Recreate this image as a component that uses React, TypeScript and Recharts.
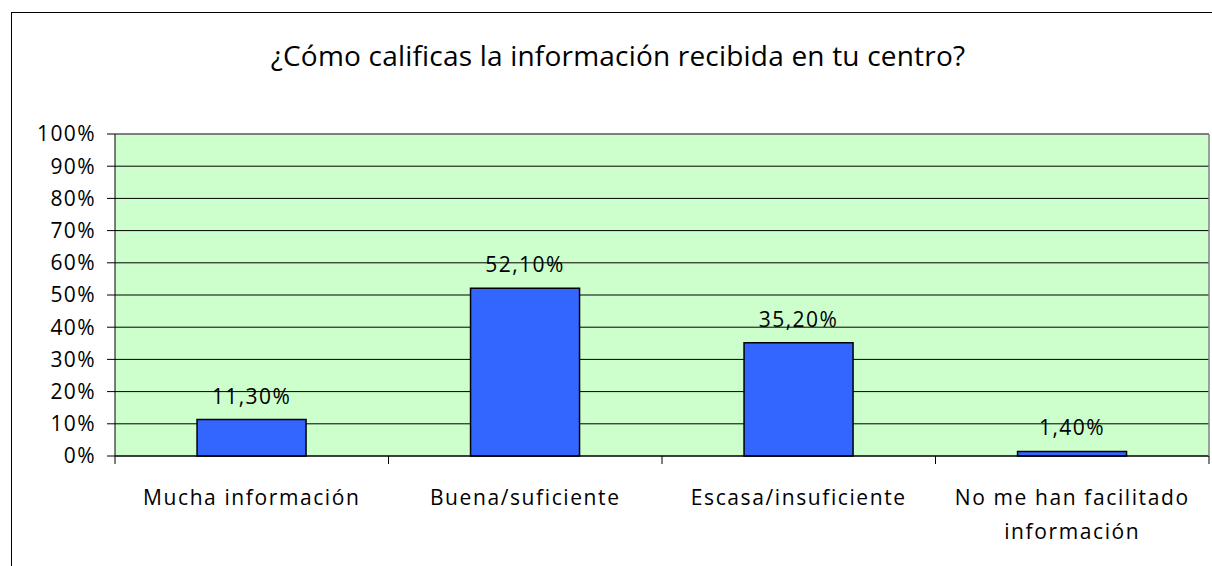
import React from 'react';
import {
  BarChart,
  Bar,
  XAxis,
  YAxis,
  CartesianGrid,
  ReferenceLine,
  LabelList,
} from 'recharts';

const categories = [
  'Mucha información',
  'Buena/suficiente',
  'Escasa/insuficiente',
  'No me han facilitado información',
];
const percentages = [11.3, 52.1, 35.2, 1.4];
const yTicks = [0, 10, 20, 30, 40, 50, 60, 70, 80, 90, 100];

const data = categories.map((name, i) => ({ name, value: percentages[i] }));

const W = 1212;
const H = 566;
const LEFT = 115;
const RIGHT = 3;
const TOP = 134;
const BOTTOM = 110;
const BAND = (W - LEFT - RIGHT) / categories.length;
const FONT = '"Open Sans", "Noto Sans", sans-serif';

const wrap = (s: string, max = 20) => {
  const lines: string[] = [];
  let cur = '';
  s.split(' ').forEach((w) => {
    if (cur && (cur + ' ' + w).length > max) {
      lines.push(cur);
      cur = w;
    } else {
      cur = cur ? cur + ' ' + w : w;
    }
  });
  if (cur) lines.push(cur);
  return lines;
};

const CategoryTick = (props: any) => {
  const { x, y, payload, index } = props;
  const left = x - BAND / 2;
  const lines = wrap(String(payload.value));
  return (
    <g>
      <line x1={left} y1={y} x2={left} y2={y + 8} stroke="#000" />
      {index === categories.length - 1 && (
        <line x1={x + BAND / 2} y1={y} x2={x + BAND / 2} y2={y + 8} stroke="#000" />
      )}
      {lines.map((l, i) => (
        <text
          key={i}
          x={x}
          y={y + 49 + i * 34}
          textAnchor="middle"
          fill="#000"
          fontSize={21}
          letterSpacing={1.6}
          fontFamily={FONT}
        >
          {l}
        </text>
      ))}
    </g>
  );
};

const fmt = (v: number) => v.toFixed(2).replace('.', ',') + '%';

export default function App() {
  return (
    <div style={{ position: 'absolute', left: 0, top: 0, width: W, height: H, overflow: 'hidden', background: '#fff' }}>
      <div
        style={{
          position: 'absolute',
          left: 11,
          top: 12,
          width: 1400,
          height: 800,
          border: '1px solid #000',
        }}
      />
      <div
        style={{
          position: 'absolute',
          left: 11,
          width: 1214,
          top: 36,
          textAlign: 'center',
          fontFamily: FONT,
          fontSize: 28,
          letterSpacing: 0.2,
          color: '#000',
        }}
      >
        ¿Cómo calificas la información recibida en tu centro?
      </div>
      <div style={{ position: 'absolute', left: 0, top: 0 }}>
        <BarChart
          width={W}
          height={H}
          data={data}
          margin={{ top: TOP, right: 0, bottom: 0, left: 0 }}
          barCategoryGap="30%"
        >
          <CartesianGrid
            yAxisId="l"
            vertical={false}
            stroke="#000"
            fill="#CCFFCC"
            fillOpacity={1}
          />
          <XAxis
            dataKey="name"
            height={BOTTOM}
            tickSize={0}
            tickMargin={0}
            tickLine={false}
            axisLine={{ stroke: '#000' }}
            tick={<CategoryTick />}
            interval={0}
          />
          <YAxis
            yAxisId="l"
            width={LEFT}
            domain={[0, 100]}
            ticks={yTicks}
            interval={0}
            tickFormatter={(v: number) => `${v}%`}
            tickSize={8}
            tickMargin={11}
            tickLine={{ stroke: '#000' }}
            axisLine={{ stroke: '#000' }}
            tick={{ fill: '#000', fontSize: 21, fontFamily: FONT, letterSpacing: 1.4 }}
          />
          <YAxis
            yAxisId="r"
            orientation="right"
            width={RIGHT}
            domain={[0, 100]}
            tick={false}
            tickLine={false}
            axisLine={{ stroke: '#808080', strokeWidth: 1.5 }}
          />
          <ReferenceLine yAxisId="l" y={100} stroke="#808080" strokeWidth={1.5} />
          <Bar
            yAxisId="l"
            dataKey="value"
            fill="#3366FF"
            stroke="#000"
            strokeWidth={1.5}
            isAnimationActive={false}
          >
            <LabelList
              dataKey="value"
              position="top"
              offset={16}
              formatter={(v: any) => fmt(Number(v))}
              fill="#000"
              fontSize={21}
              fontFamily={FONT}
              letterSpacing={1.5}
            />
          </Bar>
        </BarChart>
      </div>
    </div>
  );
}
